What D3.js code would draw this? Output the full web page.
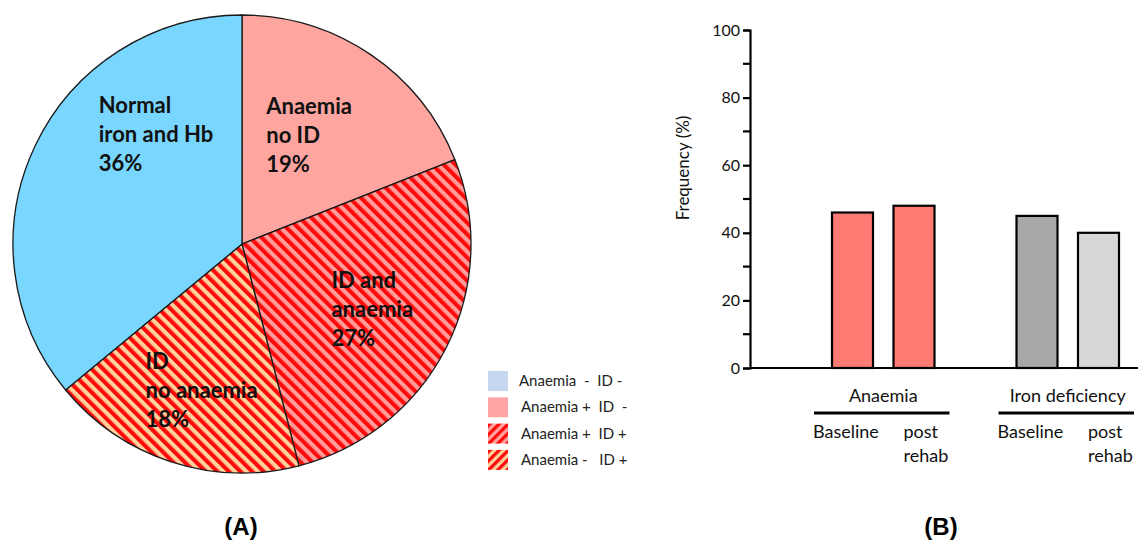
<!DOCTYPE html>
<html>
<head>
<meta charset="utf-8">
<script src="https://cdn.jsdelivr.net/npm/d3@7/dist/d3.min.js"></script>
<style>
  html, body { margin: 0; padding: 0; background: #fff; }
  svg { display: block; }
</style>
</head>
<body>
<svg id="chart" width="1146" height="544"></svg>
<script>
// ---- Panel A: iron / haemoglobin status (%) ----
const pieCategories = ["Anaemia no ID", "ID and anaemia", "ID no anaemia", "Normal iron and Hb"];
const pieValues = [19, 27, 18, 36];
const pieLabelLines = [
  ["Anaemia", "no ID", "19%"],
  ["ID and", "anaemia", "27%"],
  ["ID", "no anaemia", "18%"],
  ["Normal", "iron and Hb", "36%"]
];
const legendLabels = ["Anaemia  -  ID -", "Anaemia +  ID  -", "Anaemia +  ID +", "Anaemia -   ID +"];

// ---- Panel B: frequency at baseline and post rehab ----
const barGroups = ["Anaemia", "Iron deficiency"];
const timepoints = ["Baseline", "post rehab"];
const barKeys = ["Anaemia|Baseline", "Anaemia|post rehab", "gap", "Iron deficiency|Baseline", "Iron deficiency|post rehab"];
const barValues = [46, 48, null, 45, 40];
const yTicks = [0, 20, 40, 60, 80, 100];

const svg = d3.select("#chart");
const defs = svg.append("defs");
const FONT = "Lato, 'Open Sans', sans-serif";

// striped fills
function stripes(id, bg, size, angle) {
  const p = defs.append("pattern")
    .attr("id", id).attr("patternUnits", "userSpaceOnUse")
    .attr("width", size).attr("height", size)
    .attr("patternTransform", `rotate(${angle})`);
  p.append("rect").attr("width", size).attr("height", size).attr("fill", bg);
  p.append("rect").attr("width", size / 2).attr("height", size).attr("fill", "#ff0a0a");
}
stripes("hatchPink", "#ff9d9b", 8.2, -45);
stripes("hatchBeige", "#fed29c", 8.2, -45);
stripes("legPink", "#ffa3a3", 6.5, 45);
stripes("legBeige", "#fed29c", 6.5, 45);

const pieFills = ["#fea59f", "url(#hatchPink)", "url(#hatchBeige)", "#79d6fe"];
const legendFills = ["#c5d8f0", "#ffa5a5", "url(#legPink)", "url(#legBeige)"];

// pie
const cx = 242, cy = 244, R = 229;
const arcs = d3.pie().sort(null).startAngle(0).endAngle(2 * Math.PI)(pieValues);
const arcGen = d3.arc().innerRadius(0).outerRadius(R);
const gPie = svg.append("g").attr("transform", `translate(${cx},${cy})`);
gPie.selectAll("path.slice").data(arcs).join("path")
  .attr("class", "slice")
  .attr("d", arcGen)
  .attr("fill", (d, i) => pieFills[i])
  .attr("stroke", "#1a1a1a")
  .attr("stroke-width", 1.3)
  .attr("stroke-linejoin", "round");

// slice labels, placed relative to each slice centroid
const labelArc = d3.arc().innerRadius(R * 0.6).outerRadius(R * 0.6);
const labelNudge = [[-53, -16], [-33, -18], [-54, -6], [-19, -73]];
const lineH = 29;
gPie.selectAll("text.slabel").data(arcs).join("text")
  .attr("class", "slabel")
  .attr("font-family", FONT)
  .attr("font-weight", 700)
  .attr("font-size", 22)
  .attr("fill", "#111")
  .each(function (d, i) {
    const c = labelArc.centroid(d);
    const x = c[0] + labelNudge[i][0], y = c[1] + labelNudge[i][1];
    d3.select(this).selectAll("tspan").data(pieLabelLines[i]).join("tspan")
      .attr("x", x).attr("y", (t, k) => y + k * lineH).text(t => t);
  });

// legend
const gLeg = svg.append("g").attr("transform", "translate(488,371)");
const legItems = gLeg.selectAll("g").data(legendLabels).join("g")
  .attr("transform", (d, i) => `translate(0,${i * 26.3})`);
legItems.append("rect").attr("width", 20).attr("height", 20)
  .attr("fill", (d, i) => legendFills[i]);
legItems.append("text")
  .attr("x", (d, i) => i === 0 ? 31 : 33).attr("y", 15)
  .attr("font-family", FONT)
  .attr("font-size", 15)
  .attr("fill", "#222")
  .attr("xml:space", "preserve")
  .style("white-space", "pre")
  .text(d => d);

// bar chart
const y = d3.scaleLinear().domain([0, 100]).range([368, 30]);
const x = d3.scaleBand().domain(barKeys).range([821.75, 1129.25])
  .paddingInner(1 / 3).paddingOuter(1 / 6);
const barFills = ["#ff7b73", "#ff7b73", "none", "#a8a8a8", "#d7d7d7"];
const axisX = 750;

const gBars = svg.append("g");
gBars.selectAll("rect").data(barKeys.map((k, i) => ({ k, v: barValues[i], i })).filter(d => d.v !== null))
  .join("rect")
  .attr("x", d => x(d.k)).attr("width", x.bandwidth())
  .attr("y", d => y(d.v)).attr("height", d => y(0) - y(d.v))
  .attr("fill", d => barFills[d.i])
  .attr("stroke", "#000").attr("stroke-width", 2.2);

// y axis with minor ticks
const yAxis = svg.append("g").attr("transform", `translate(${axisX},0)`)
  .call(d3.axisLeft(y).tickValues(yTicks).tickSize(7).tickPadding(3))
  .call(g => g.select(".domain").attr("stroke-width", 2.2))
  .call(g => g.selectAll(".tick line").attr("stroke-width", 2.2))
  .call(g => g.selectAll(".tick text")
    .attr("font-family", FONT).attr("font-size", 16).attr("fill", "#111"));
yAxis.selectAll("line.minor").data(d3.range(10, 100, 20)).join("line")
  .attr("class", "minor")
  .attr("x1", -7).attr("x2", 0).attr("y1", d => y(d)).attr("y2", d => y(d))
  .attr("stroke", "#000").attr("stroke-width", 2.2);

svg.append("line")
  .attr("x1", axisX).attr("x2", 1138).attr("y1", y(0)).attr("y2", y(0))
  .attr("stroke", "#000").attr("stroke-width", 2.2);

svg.append("text")
  .attr("transform", "translate(689,168) rotate(-90)")
  .attr("text-anchor", "middle")
  .attr("font-family", FONT).attr("font-size", 17).attr("fill", "#111")
  .text("Frequency (%)");

// group labels with brackets and timepoint labels
barGroups.forEach((g, gi) => {
  const b0 = x(`${g}|${timepoints[0]}`), b1 = x(`${g}|${timepoints[1]}`) + x.bandwidth();
  const mid = (b0 + b1) / 2;
  svg.append("text").attr("x", mid).attr("y", 402).attr("text-anchor", "middle")
    .attr("font-family", FONT).attr("font-size", 18).attr("fill", "#111").text(g);
  svg.append("line").attr("x1", b0 - 18).attr("x2", b1 + 15).attr("y1", 413).attr("y2", 413)
    .attr("stroke", "#000").attr("stroke-width", 3);
  timepoints.forEach((t, ti) => {
    const bx = x(`${g}|${t}`);
    const words = ti === 0 ? [t] : t.split(" ");
    const tx = ti === 0 ? bx - 19 : bx + 10;
    const txt = svg.append("text").attr("font-family", FONT).attr("font-size", 18).attr("fill", "#111");
    words.forEach((w, wi) => txt.append("tspan").attr("x", tx).attr("y", 438 + wi * 24).text(w));
  });
});

// panel letters
[["(A)", 241], ["(B)", 941]].forEach(([t, px]) => {
  svg.append("text").attr("x", px).attr("y", 535).attr("text-anchor", "middle")
    .attr("font-family", "'Liberation Sans', Arial, sans-serif").attr("font-weight", 700)
    .attr("font-size", 24).attr("fill", "#000").text(t);
});
</script>
</body>
</html>
